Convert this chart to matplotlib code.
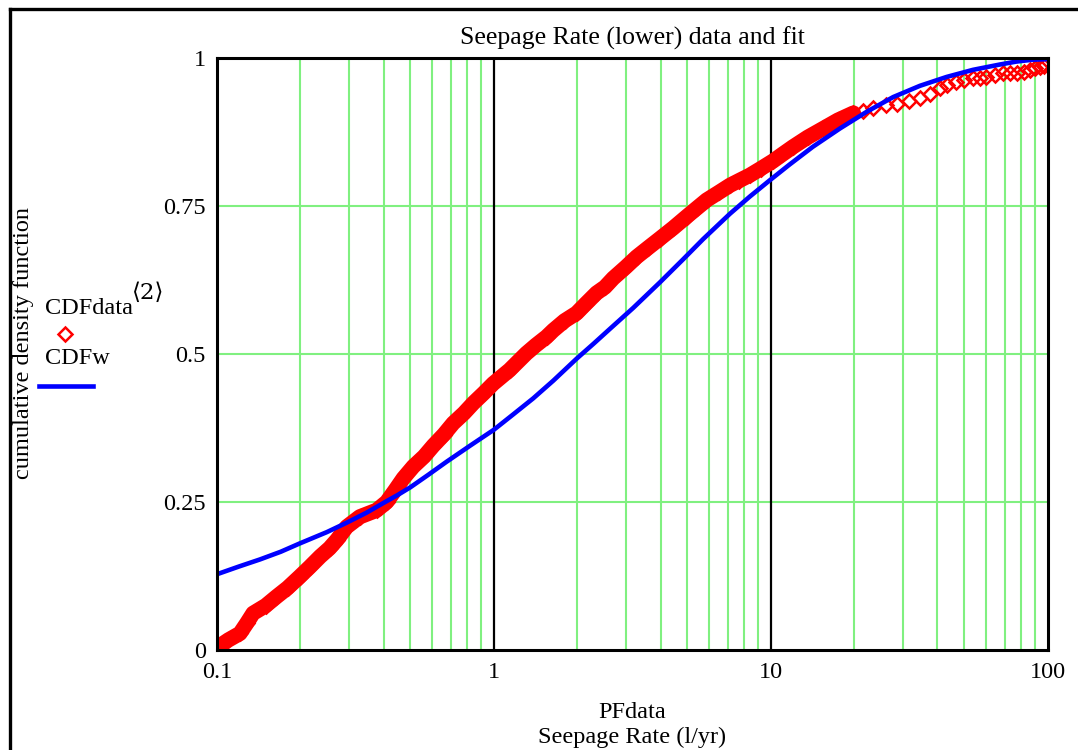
import matplotlib
matplotlib.use("Agg")
import matplotlib.pyplot as plt
from matplotlib.lines import Line2D
from matplotlib.ticker import FixedLocator, NullFormatter, NullLocator

# Empirical CDF of the seepage-rate data
pf_data = [0.100, 0.103, 0.110, 0.121, 0.128, 0.135, 0.150, 0.164, 0.180, 0.199,
           0.216, 0.236, 0.255, 0.271, 0.294, 0.328, 0.377, 0.410, 0.440, 0.471,
           0.512, 0.560, 0.604, 0.660, 0.713, 0.780, 0.843, 0.920, 0.995, 1.14,
           1.31, 1.42, 1.55, 1.64, 1.80, 1.99, 2.15, 2.35, 2.52, 2.70,
           3.00, 3.28, 3.60, 3.98, 4.45, 4.97, 5.40, 5.87, 6.50, 7.13,
           7.70, 8.41, 9.20, 10.2, 11.0, 12.05, 13.6, 15.5, 17.5, 19.9,
           21.5, 23.4, 26.0, 28.5, 31.5, 34.6, 37.5, 40.9, 43.5, 46.9,
           50.0, 53.8, 57.0, 60.2, 64.5, 69.2, 73.0, 77.3, 82.0, 86.3,
           90.0, 93.8, 97.0]
cdf_data = [0.003, 0.008, 0.017, 0.028, 0.045, 0.062, 0.075, 0.090, 0.105, 0.124,
            0.140, 0.158, 0.172, 0.186, 0.208, 0.225, 0.236, 0.250, 0.270, 0.290,
            0.310, 0.327, 0.345, 0.364, 0.383, 0.400, 0.417, 0.434, 0.450, 0.473,
            0.501, 0.515, 0.529, 0.540, 0.556, 0.569, 0.585, 0.603, 0.613, 0.628,
            0.647, 0.664, 0.679, 0.695, 0.713, 0.732, 0.746, 0.760, 0.773, 0.785,
            0.793, 0.802, 0.813, 0.826, 0.837, 0.850, 0.866, 0.881, 0.895, 0.907,
            0.910, 0.915, 0.920, 0.923, 0.928, 0.932, 0.940, 0.949, 0.955, 0.960,
            0.963, 0.966, 0.967, 0.968, 0.971, 0.974, 0.974, 0.974, 0.977, 0.980,
            0.983, 0.985, 0.987]

# Fitted Weibull CDF
pf_fit = [0.100, 0.120, 0.143, 0.170, 0.199, 0.249, 0.294, 0.347, 0.398, 0.450,
          0.500, 0.580, 0.675, 0.820, 1.000, 1.175, 1.387, 1.64, 1.99, 2.30,
          2.62, 3.19, 3.98, 4.83, 5.70, 7.13, 8.41, 9.9, 11.7, 14.2,
          17.8, 22.2, 27.7, 34.6, 43.2, 53.8, 67.3, 77.3, 88.0, 100.0]
cdf_w = [0.128, 0.141, 0.153, 0.166, 0.180, 0.199, 0.215, 0.232, 0.248, 0.262,
         0.275, 0.296, 0.318, 0.345, 0.372, 0.398, 0.425, 0.455, 0.492, 0.518,
         0.542, 0.578, 0.621, 0.660, 0.694, 0.737, 0.766, 0.793, 0.820, 0.850,
         0.881, 0.909, 0.934, 0.953, 0.968, 0.980, 0.989, 0.994, 0.997, 0.998]

x_ticks = [0.1, 1, 10, 100]
x_tick_labels = ["0.1", "1", "10", "100"]
y_ticks = [0, 0.25, 0.5, 0.75, 1]
y_tick_labels = ["0", "0.25", "0.5", "0.75", "1"]

W, H = 1078, 750
SERIF = ["Liberation Serif", "DejaVu Serif"]
plt.rcParams["font.family"] = SERIF
FS = 17.5

fig = plt.figure(figsize=(W / 100, H / 100), dpi=100)


def fx(x):
    return x / W


def fy(y):
    return 1 - y / H


ax = fig.add_axes([fx(217), fy(650), fx(1047.5) - fx(217), fy(58) - fy(650)])
ax.set_xscale("log")
ax.set_xlim(0.1, 100)
ax.set_ylim(0, 1)

# grid: green minor lines, black decade lines
grid_green = "#80f080"
for dec in (0.1, 1, 10):
    for k in range(2, 10):
        ax.axvline(dec * k, color=grid_green, lw=1.5, zorder=1)
for yv in (0.25, 0.5, 0.75):
    ax.axhline(yv, color=grid_green, lw=1.5, zorder=1)
for xv in (1, 10):
    ax.axvline(xv, color="black", lw=1.6, zorder=1.5)

# data band and markers
dense = [i for i, v in enumerate(pf_data) if v <= 20]
ax.plot([pf_data[i] for i in dense], [cdf_data[i] for i in dense],
        color="red", lw=11, solid_capstyle="round", solid_joinstyle="round", zorder=2)
ax.plot(pf_data, cdf_data, linestyle="none", marker="D", markersize=7.5,
        markerfacecolor="none", markeredgecolor="red", markeredgewidth=1.8, zorder=3)
ax.plot(pf_fit, cdf_w, color="#0000ff", lw=3.3, solid_joinstyle="round", zorder=4)

ax.xaxis.set_major_locator(FixedLocator(x_ticks))
ax.xaxis.set_minor_locator(NullLocator())
ax.xaxis.set_minor_formatter(NullFormatter())
ax.set_xticklabels(x_tick_labels)
ax.set_yticks(y_ticks)
ax.set_yticklabels(y_tick_labels)
ax.tick_params(axis="both", length=0, labelsize=FS)
ax.tick_params(axis="x", pad=9)
ax.tick_params(axis="y", pad=8)
for s in ax.spines.values():
    s.set_linewidth(2.2)
    s.set_color("black")
    s.set_zorder(5)

# titles and axis labels
fig.text(fx(632), fy(38), "Seepage Rate (lower) data and fit", ha="center", va="center", fontsize=FS + 1)
fig.text(fx(632), fy(712), "PFdata", ha="center", va="center", fontsize=FS)
fig.text(fx(632), fy(737), "Seepage Rate (l/yr)", ha="center", va="center", fontsize=FS)
fig.text(fx(24), fy(343), "cumulative density function", ha="center", va="center",
         rotation=90, fontsize=FS)

# legend
fig.text(fx(45), fy(309), "CDFdata", ha="left", va="center", fontsize=FS)
fig.text(fx(132), fy(293), "\u27e82\u27e9", ha="left", va="center", fontsize=FS - 1,
         family=["DejaVu Serif", "DejaVu Sans"])
fig.add_artist(Line2D([fx(65)], [fy(334)], marker="D", markersize=7.5,
                      markerfacecolor="none", markeredgecolor="red", markeredgewidth=1.8))
fig.text(fx(45), fy(358), "CDFw", ha="left", va="center", fontsize=FS)
fig.add_artist(Line2D([fx(39), fx(93)], [fy(386), fy(386)], color="#0000ff", lw=3.3))

# outer frame (left and top edges)
fig.add_artist(Line2D([fx(10), fx(10)], [fy(9), 0], color="black", lw=2.4))
fig.add_artist(Line2D([fx(10), 1], [fy(9), fy(9)], color="black", lw=2.4))

fig.savefig("out.png", dpi=100)
